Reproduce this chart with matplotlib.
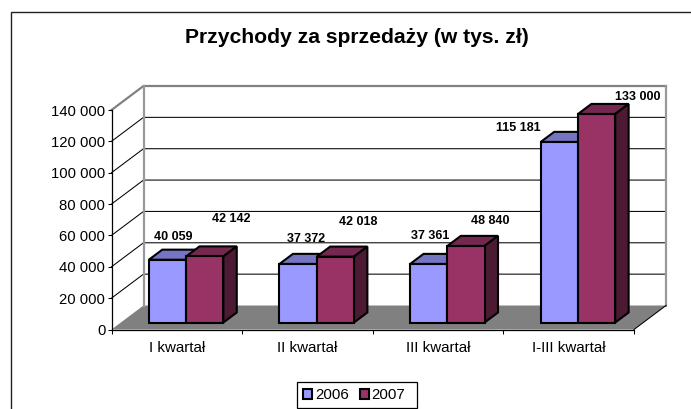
import matplotlib
matplotlib.use('Agg')
import matplotlib.pyplot as plt
from matplotlib.patches import Patch, Polygon, Rectangle
from matplotlib.lines import Line2D

plt.rcParams['font.family'] = ['Liberation Sans', 'DejaVu Sans']

# Dane z wykresu
kwartaly = ['I kwartał', 'II kwartał', 'III kwartał', 'I-III kwartał']
lata = ['2006', '2007']
przychody_2006 = [40059, 37372, 37361, 115181]
przychody_2007 = [42142, 42018, 48840, 133000]
etykiety_2006 = ['40 059', '37 372', '37 361', '115 181']
etykiety_2007 = ['42 142', '42 018', '48 840', '133 000']
wartosci_osi = [0, 20000, 40000, 60000, 80000, 100000, 120000, 140000]
etykiety_osi = ['0', '20 000', '40 000', '60 000', '80 000', '100 000', '120 000', '140 000']

# Przesuniecia etykiet wzgledem srodka slupka (piksele)
przes_2006 = [(6, 23), (8, 25), (1, 28), (-41, 14)]
przes_2007 = [(27, 37), (23, 35), (24, 25), (41, 17)]

W, H = 691, 409
fig = plt.figure(figsize=(W / 100, H / 100), dpi=100)
ax = fig.add_axes([111.5 / W, 1 - 329.5 / H, 522.5 / W, 219.5 / H])
ax.set_xlim(0, 4)
ax.set_ylim(0, 140000)
ax.patch.set_visible(False)

# Rzut ukosny: glebokosc d od 0 (przod) do 1 (sciana tylna)
DX = 32 / 522.5 * 4
DY = 24 / 219.5 * 140000


def rzut(x, v, d):
    return (x + d * DX, v + d * DY)


def wielokat(punkty, kolor, z, lw=1.5, brzeg='black'):
    ax.add_patch(Polygon(punkty, closed=True, facecolor=kolor, edgecolor=brzeg,
                         linewidth=lw, joinstyle='miter', clip_on=False, zorder=z))


# Podloga
wielokat([rzut(0, 0, 0), rzut(4, 0, 0), rzut(4, 0, 1), rzut(0, 0, 1)], '#808080', 1, lw=0, brzeg='none')

# Linie siatki na scianach
for v in wartosci_osi[1:]:
    kolor = '#808080' if v == 140000 else 'black'
    lw = 1.6 if v == 140000 else 0.75
    x0, y0 = rzut(0, v, 0)
    x1, y1 = rzut(0, v, 1)
    x2, y2 = rzut(4, v, 1)
    ax.plot([x0, x1, x2], [y0, y1, y2], color=kolor, lw=lw, clip_on=False, zorder=1,
            solid_joinstyle='miter')

# Szare krawedzie tylnej sciany
for x in [0, 4]:
    xa, ya = rzut(x, 0, 1)
    xb, yb = rzut(x, 140000, 1)
    ax.plot([xa, xb], [ya, yb], color='#999999', lw=1.6, clip_on=False, zorder=1)

# Prawa krawedz podlogi
xa, ya = rzut(4, 0, 0)
xb, yb = rzut(4, 0, 1)
ax.plot([xa, xb], [ya, yb], color='black', lw=0.75, clip_on=False, zorder=2)

szer = 0.285
d0, d1 = 0.29, 0.71


def slupek(x, v, przod, gora, bok, z):
    wielokat([rzut(x, v, d0), rzut(x + szer, v, d0), rzut(x + szer, v, d1), rzut(x, v, d1)], gora, z)
    wielokat([rzut(x + szer, 0, d0), rzut(x + szer, v, d0), rzut(x + szer, v, d1), rzut(x + szer, 0, d1)], bok, z)
    wielokat([rzut(x, 0, d0), rzut(x + szer, 0, d0), rzut(x + szer, v, d0), rzut(x, v, d0)], przod, z + 0.1)


for i in range(len(kwartaly)):
    x_a = i + 0.5 - szer
    x_b = i + 0.5
    slupek(x_a, przychody_2006[i], '#9999FF', '#7575C4', '#4C4C80', 3 + i)
    slupek(x_b, przychody_2007[i], '#993366', '#74284F', '#4C1A33', 3.5 + i)
    ax.annotate(etykiety_2006[i], rzut(x_a + szer / 2, przychody_2006[i], d0), xytext=przes_2006[i],
                textcoords='offset pixels', ha='center', va='center', fontsize=9,
                fontweight='bold', annotation_clip=False, zorder=10)
    ax.annotate(etykiety_2007[i], rzut(x_b + szer / 2, przychody_2007[i], d0), xytext=przes_2007[i],
                textcoords='offset pixels', ha='center', va='center', fontsize=9,
                fontweight='bold', annotation_clip=False, zorder=10)

# Osie
for s in ['top', 'right']:
    ax.spines[s].set_visible(False)
for s in ['left', 'bottom']:
    ax.spines[s].set_linewidth(0.9)
    ax.spines[s].set_zorder(5)
ax.set_yticks(wartosci_osi)
ax.set_yticklabels(etykiety_osi, fontsize=10.7)
ax.tick_params(axis='y', length=3, width=0.75, pad=1.5)
ax.set_xticks([0, 1, 2, 3, 4])
ax.set_xticklabels([])
ax.tick_params(axis='x', which='major', length=3, width=0.75)
ax.set_xticks([0.5, 1.5, 2.5, 3.5], minor=True)
ax.set_xticklabels(kwartaly, minor=True, fontsize=10.9)
ax.tick_params(axis='x', which='minor', length=0, pad=8.5)

# Tytul
fig.text(357 / W, 1 - 37.5 / H, 'Przychody za sprzedaży (w tys. zł)', fontsize=15.2, fontweight='bold',
         ha='center', va='center')

# Ramka wykresu (wychodzi poza obraz z prawej i od dolu)
fig.add_artist(Line2D([10.5 / W, 10.5 / W, 1], [0, 1 - 11.5 / H, 1 - 11.5 / H], color='#222222', lw=1.0,
                      solid_joinstyle='miter'))

# Legenda: ramka rysowana osobno, bo w oryginale ma nierowne marginesy
fig.add_artist(Rectangle((297.3 / W, 1 - 408.3 / H), 119.4 / W, 26 / H, transform=fig.transFigure,
                         facecolor='white', edgecolor='black', linewidth=0.9))
uchwyty = [Patch(facecolor='#9999FF', edgecolor='black', linewidth=1.5, label=lata[0]),
           Patch(facecolor='#993366', edgecolor='black', linewidth=1.5, label=lata[1])]
leg = fig.legend(handles=uchwyty, ncol=2, loc='center left', bbox_to_anchor=(303 / W, 1 - 395.3 / H),
                 fontsize=10.8, frameon=False,
                 handlelength=0.6, handleheight=0.6, handletextpad=0.2, columnspacing=0.72,
                 borderpad=0, borderaxespad=0)
leg.set_zorder(5)

fig.savefig('out.png', dpi=100)
